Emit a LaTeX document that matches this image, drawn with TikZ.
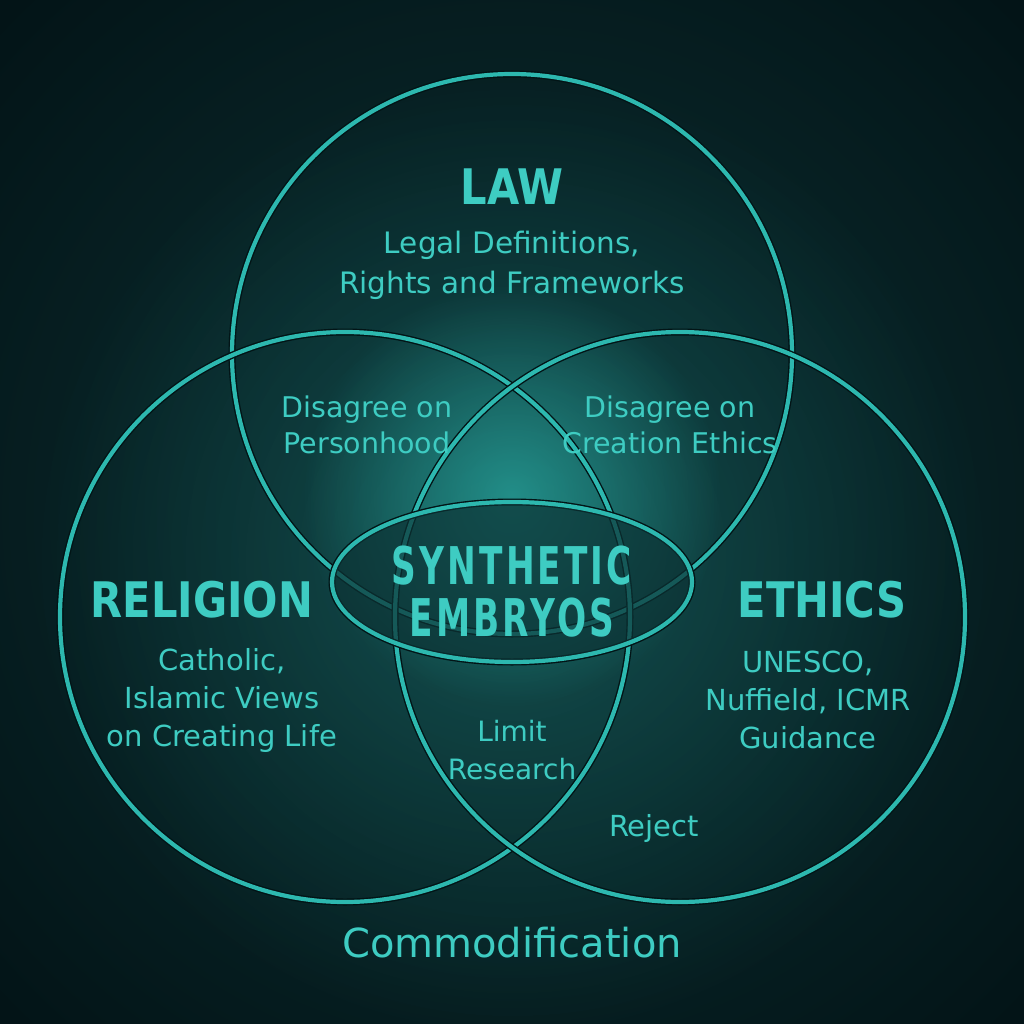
\documentclass[tikz,border=0pt]{standalone}
\usepackage{fontspec}
\setmainfont{DejaVu Sans}
\newfontfamily\headfont[FakeStretch=0.85]{DejaVu Sans}
\newfontfamily\corefont[FakeStretch=0.66,LetterSpace=6]{DejaVu Sans}
\usepackage{tikz}
\usetikzlibrary{shapes.geometric,%
                fadings}

\definecolor{bgdark}{RGB}{3,20,23}
\definecolor{bgmid}{RGB}{12,50,52}
\definecolor{vennline}{RGB}{45,184,175}
\definecolor{venntext}{RGB}{62,204,194}
\definecolor{edgedark}{RGB}{2,20,22}
\tikzfading[name=glowfade, inner color=transparent!40, outer color=transparent!100]
\tikzfading[name=hazefade, inner color=transparent!75, outer color=transparent!100]

\begin{document}
\begin{tikzpicture}[x=1pt,y=-1pt]
		\tikzstyle{venn}=[circle,draw=vennline,line width=4.2pt,inner sep=0pt,preaction={draw=edgedark,line width=7pt}]
		\tikzstyle{title}=[text=venntext,font=\headfont\bfseries\fontsize{49}{49}\selectfont]
		\tikzstyle{note}=[text=venntext,align=center,font=\fontsize{29}{38}\selectfont]
		\useasboundingbox (0,0) rectangle (1024,1024);
		% background and glow
		\shade[inner color=bgmid,outer color=bgdark] (-200,-200) rectangle (1224,1224);
		\fill[vennline,path fading=hazefade] (512,560) circle (480);
		\fill[vennline,path fading=glowfade] (512,495) circle (210);
		% the three sets
		\node[venn,minimum size=560pt] (law) at (512,354) {};
		\node[venn,minimum size=570pt] (religion) at (345,617) {};
		\node[venn,minimum size=570pt] (ethics) at (680,617) {};
		\node[venn,ellipse,minimum width=360pt,minimum height=160pt,fill=bgmid,fill opacity=0.7] (core) at (512,582) {};
		% labels
		\node[title] (lawtitle) at (512,187) {LAW};
		\node[note,font=\fontsize{29.5}{40}\selectfont] (lawnote) at (512,265) {Legal Definitions,\\Rights and Frameworks};
		\node[title] (reltitle) at (202,600) {RELIGION};
		\node[note] (relnote) at (222,700) {Catholic,\\Islamic Views\\on Creating Life};
		\node[title] (ethtitle) at (822,600) {ETHICS};
		\node[note] (ethnote) at (808,700) {UNESCO,\\Nuffield, ICMR\\Guidance};
		\node[note,font=\fontsize{28.5}{36}\selectfont] (person) at (367,425) {Disagree on\\Personhood};
		\node[note,font=\fontsize{28.5}{36}\selectfont] (creation) at (670,425) {Disagree on\\Creation Ethics};
		\node[note,font=\fontsize{28}{38}\selectfont] (limit) at (512,750) {Limit\\Research};
		\node[note] (reject) at (654,828) {Reject};
		\node[note,font=\fontsize{40}{40}\selectfont] (commod) at (512,943) {Commodification};
		\node[text=venntext,align=center,font=\corefont\bfseries\fontsize{52}{52}\selectfont] (coretext) at (512,592) {SYNTHETIC\\EMBRYOS};
	\end{tikzpicture}
\end{document}
